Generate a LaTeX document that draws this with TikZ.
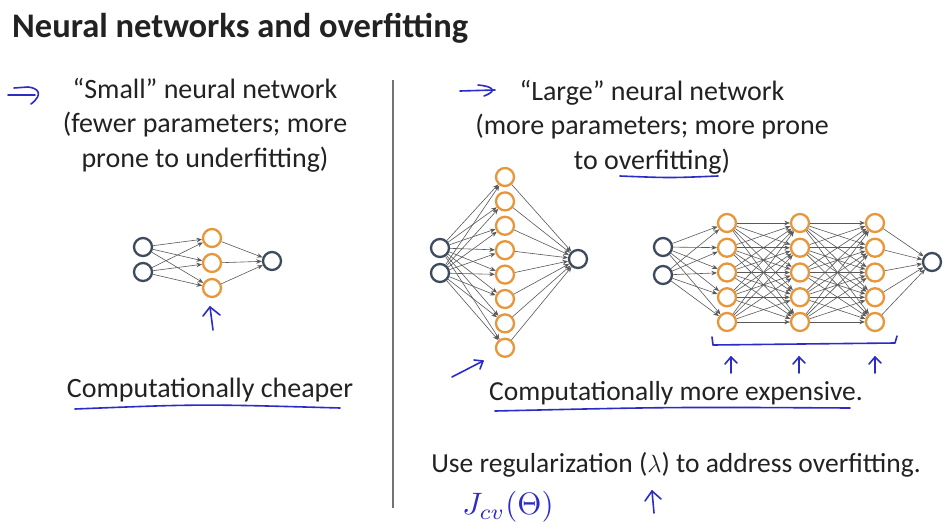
\documentclass[tikz,border=0pt]{standalone}
\usepackage{fontspec}
\setmainfont{Carlito}
\usetikzlibrary{arrows.meta, positioning}
\definecolor{inkblue}{HTML}{2B2BC8}
\definecolor{unitgray}{HTML}{3E4B5E}
\definecolor{unitorange}{HTML}{E8963A}
\definecolor{textdark}{HTML}{222222}

\begin{document}
\begin{tikzpicture}[x=1pt, y=-1pt]

    % --- Estilos ---
    \tikzset{
        unit/.style={circle, draw=unitgray, line width=2.3pt, fill=white, minimum size=18pt, inner sep=0pt},
        hidden/.style={unit, draw=unitorange},
        edge/.style={draw=black!65, line width=0.6pt, -{Stealth[length=5.5pt, width=4.5pt]}},
        ink/.style={draw=inkblue, line width=1.6pt, line cap=round, line join=round},
        divider/.style={draw=black!55, line width=1.2pt},
        heading/.style={font=\bfseries\fontsize{34.5}{40}\selectfont, text=textdark, anchor=base west, inner sep=0pt},
        body/.style={font=\fontsize{28}{34.5}\selectfont, text=textdark, align=center, inner sep=0pt},
        note/.style={font=\fontsize{27.5}{33}\selectfont, text=textdark, anchor=base, inner sep=0pt}
    }

    \useasboundingbox[fill=white] (0,0) rectangle (952,530);

    % --- Titulo ---
    \node (title) [heading] at (12,37) {Neural networks and overfitting};

    % --- Red pequena ---
    \node (smalltxt) [body, anchor=north] at (205,78) {“Small” neural network\\(fewer parameters; more\\prone to underfitting)};
    \node (s-in1) [unit] at (143,247) {};
    \node (s-in2) [unit] at (143,272) {};
    \foreach \j in {1,2,3} \node (s-h\j) [hidden] at (212,{213+25*\j}) {};
    \node (s-out) [unit] at (272,261) {};
    \foreach \i in {1,2} \foreach \j in {1,2,3} \draw [edge] (s-in\i) -- (s-h\j);
    \foreach \j in {1,2,3} \draw [edge] (s-h\j) -- (s-out);
    \node (cheap) [body, anchor=base] at (210,397) {Computationally cheaper};

    % --- Separador ---
    \draw [divider] (393,80) -- (393,508);

    % --- Red grande (una capa) ---
    \node (largetxt) [body, anchor=north] at (652,80) {“Large” neural network\\(more parameters; more prone\\to overfitting)};
    \node (m-in1) [unit] at (440,248) {};
    \node (m-in2) [unit] at (440,273) {};
    \foreach \j in {1,...,8} \node (m-h\j) [hidden] at (505,{152.6+24.4*\j}) {};
    \node (m-out) [unit] at (578,259) {};
    \foreach \i in {1,2} \foreach \j in {1,...,8} \draw [edge] (m-in\i) -- (m-h\j);
    \foreach \j in {1,...,8} \draw [edge] (m-h\j) -- (m-out);

    % --- Red grande (tres capas) ---
    \node (l-in1) [unit] at (663,247) {};
    \node (l-in2) [unit] at (663,275) {};
    \foreach \k/\x in {1/727,2/800,3/875}
        \foreach \j in {1,...,5} \node (l-h\k-\j) [hidden] at (\x,{198.25+24.75*\j}) {};
    \node (l-out) [unit] at (932,262) {};
    \foreach \i in {1,2} \foreach \j in {1,...,5} \draw [edge] (l-in\i) -- (l-h1-\j);
    \foreach \a/\b in {1/2,2/3}
        \foreach \i in {1,...,5} \foreach \j in {1,...,5} \draw [edge] (l-h\a-\i) -- (l-h\b-\j);
    \foreach \j in {1,...,5} \draw [edge] (l-h3-\j) -- (l-out);

    \node (expensive) [note] at (676,400) {Computationally more expensive.};
    \node (regular) [note] at (676,472) {Use regularization ($\lambda$) to address overfitting.};

    % --- Anotaciones a mano ---
    \draw [ink] (8,95) -- (35,95);
    \draw [ink] (14,88) -- (28,87) .. controls (38,88) and (44,94) .. (31,104);
    \draw [ink] (460,91) -- (495,90);
    \draw [ink] (478,85) .. controls (490,86) and (500,90) .. (484,96);
    \draw [ink] (620,176) .. controls (670,178) .. (718,176);
    \draw [ink] (213,330) -- (210,307);
    \draw [ink] (203,316) -- (210,307) -- (220,315);
    \draw [ink] (75,409) .. controls (200,404) .. (340,408);
    \draw [ink] (452,377) -- (483,361);
    \draw [ink] (474,360) -- (483,361) -- (480,369);
    \draw [ink] (712,337) -- (713,345) .. controls (800,344) .. (895,343) -- (897,336);
    \foreach \x in {731,799,875} {
        \draw [ink] (\x,373) -- (\x,357);
        \draw [ink] ({\x-6},364) -- (\x,357) -- ({\x+6},363);
    }
    \draw [ink] (495,411) .. controls (670,407) .. (850,408);
    \draw [ink] (654,513) -- (652,491);
    \draw [ink] (645,501) -- (652,491) -- (661,499);
    \node (jcv) [text=inkblue, inner sep=0pt] at (508,507) {\scalebox{3.1}{$J_{cv}(\Theta)$}};

\end{tikzpicture}
\end{document}
